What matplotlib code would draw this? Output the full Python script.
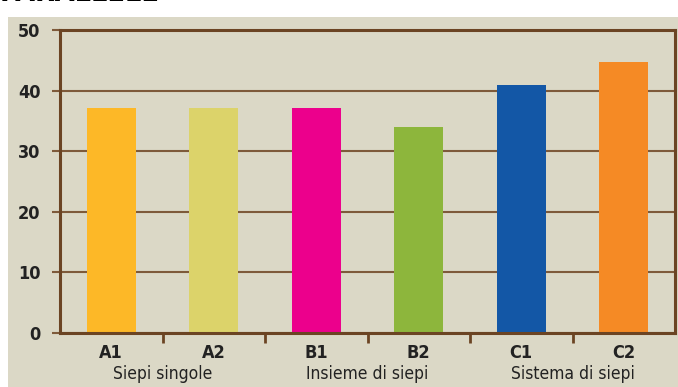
import matplotlib.pyplot as plt
from matplotlib import font_manager

categories = ['A1', 'A2', 'B1', 'B2', 'C1', 'C2']
values = [37.2, 37.2, 37.2, 34.0, 41.0, 44.8]
colors = ['#FDB827', '#DCD36A', '#EC008C', '#8DB63C', '#1357A6', '#F58A25']
groups = ['Siepi singole', 'Insieme di siepi', 'Sistema di siepi']
yticks = [0, 10, 20, 30, 40, 50]

names = {f.name for f in font_manager.fontManager.ttflist}
narrow = 'Liberation Sans Narrow' if 'Liberation Sans Narrow' in names else 'DejaVu Sans'
plt.rcParams['font.family'] = [narrow, 'DejaVu Sans']
plt.rcParams['font.stretch'] = 'condensed'

brown = '#6B4423'
grid_c = '#7E5A3A'
bg = '#DBD8C6'

fig = plt.figure(figsize=(6.78, 3.87), dpi=100)
fig.patch.set_facecolor('white')

# beige panel behind the chart
back = fig.add_axes([8 / 678, 0, 670 / 678, 1 - 17 / 387], zorder=-1)
back.set_facecolor(bg)
back.set_xticks([])
back.set_yticks([])
for s in back.spines.values():
    s.set_visible(False)

fig.text(0.0, 1 - 1 / 387, 'PARALLELE', fontsize=20.5, fontweight='bold',
         va='baseline', ha='left', color='black')

ax = fig.add_axes([60 / 678, 54 / 387, 615 / 678, 303 / 387])
ax.set_facecolor(bg)
x = list(range(len(categories)))
ax.bar(x, values, width=0.48, color=colors, zorder=3)

ax.set_xlim(-0.5, 5.5)
ax.set_ylim(0, 50)
ax.set_yticks(yticks)
ax.set_yticklabels([str(v) for v in yticks], fontsize=13, fontweight='bold', color='#222222')
ax.yaxis.grid(True, color=grid_c, lw=1.5, zorder=1)
ax.tick_params(axis='y', length=6, width=1.5, color=grid_c, pad=8)

ax.set_xticks(x)
ax.set_xticklabels(categories, fontsize=13, fontweight='bold', color='#222222')
ax.tick_params(axis='x', which='major', length=0, pad=8)
ax.set_xticks([0.5, 1.5, 2.5, 3.5, 4.5], minor=True)
ax.tick_params(axis='x', which='minor', length=7, width=2, color=brown, direction='out')

for s in ax.spines.values():
    s.set_color(brown)
    s.set_linewidth(2.2)
    s.set_zorder(4)

for i, g in enumerate(groups):
    ax.text(2 * i + 0.5, -0.105, g, transform=ax.get_xaxis_transform(),
            ha='center', va='top', fontsize=12.5, color='#222222')

fig.savefig('out.png', dpi=100)
